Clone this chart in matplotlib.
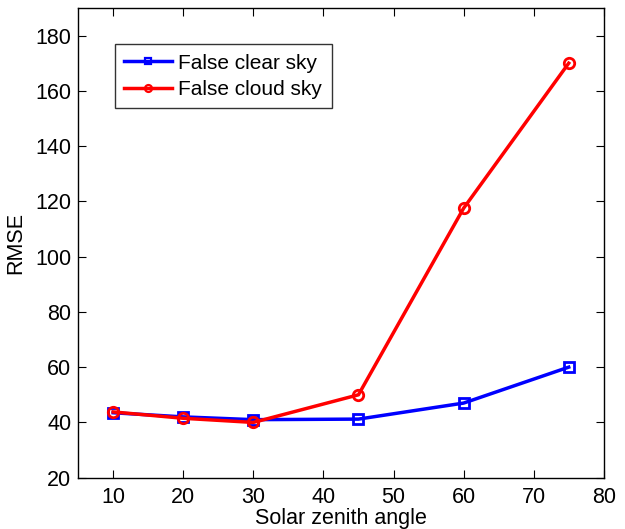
import matplotlib
matplotlib.use("Agg")
import matplotlib.pyplot as plt

plt.rcParams['font.family'] = ['Liberation Sans', 'DejaVu Sans']

angles = [10, 20, 30, 45, 60, 75]
clear_rmse = [43.5, 42.0, 41.0, 41.2, 47.0, 60.0]
cloud_rmse = [43.8, 41.5, 40.0, 50.0, 117.5, 170.0]
xticks = [10, 20, 30, 40, 50, 60, 70, 80]
yticks = [20, 40, 60, 80, 100, 120, 140, 160, 180]

fig = plt.figure(figsize=(6.25, 5.29), dpi=100)
ax = fig.add_axes([0.125, 0.097, 0.841, 0.888])

ax.plot(angles, clear_rmse, color='#0000ff', lw=2.5, marker='s', ms=7,
        mfc='none', mew=2, label='False clear sky')
ax.plot(angles, cloud_rmse, color='#ff0000', lw=2.5, marker='o', ms=7.5,
        mfc='none', mew=2, label='False cloud sky')

ax.set_xlim(5, 80)
ax.set_ylim(20, 190)
ax.set_xticks(xticks)
ax.set_yticks(yticks)
ax.tick_params(direction='in', top=True, right=True, labelsize=15.5, length=6, pad=7)
ax.tick_params(axis='y', pad=5)
for s in ax.spines.values():
    s.set_linewidth(1)

ax.set_xlabel('Solar zenith angle', fontsize=15.5, labelpad=0)
ax.set_ylabel('RMSE', fontsize=15.5, labelpad=6)

leg = ax.legend(loc='upper left', bbox_to_anchor=(0.05, 0.945), fontsize=15,
                frameon=True, fancybox=False, edgecolor='black',
                handlelength=2.3, handletextpad=0.3, borderpad=0.45,
                labelspacing=0.35)
leg.get_frame().set_linewidth(1)
for h in leg.legend_handles:
    h.set_markersize(5)
    h.set_markeredgewidth(1.6)

fig.savefig('out.png', dpi=100)
